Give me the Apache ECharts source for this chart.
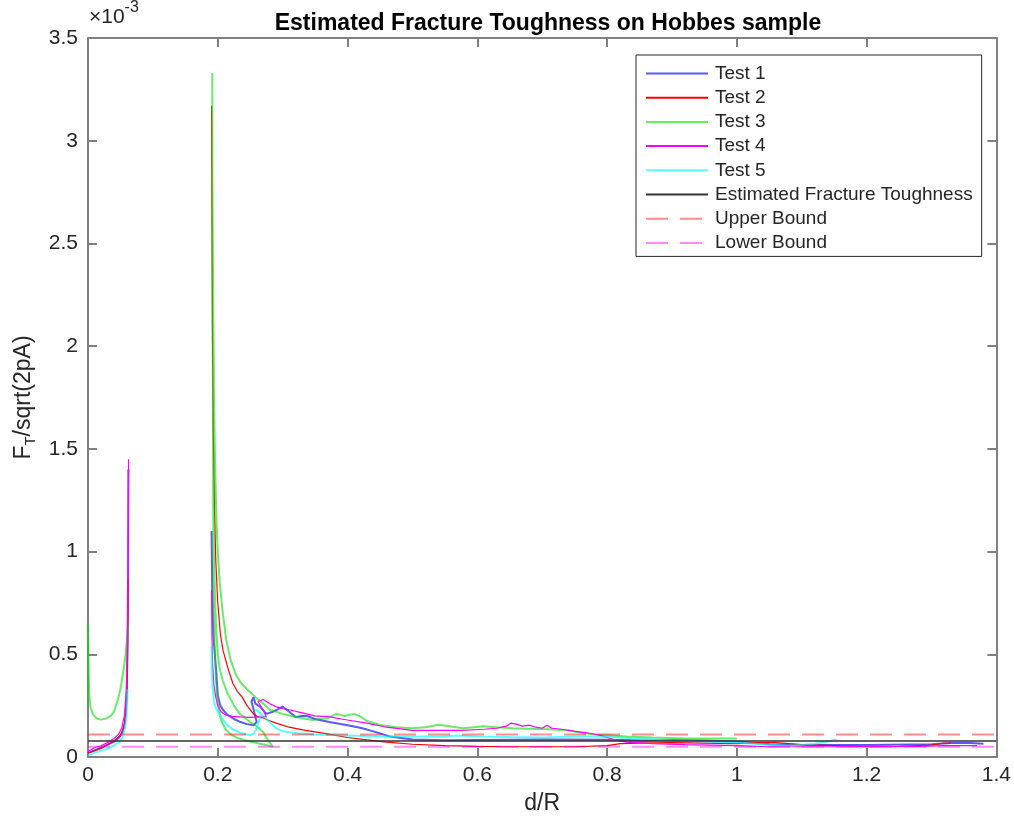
<!DOCTYPE html>
<html>
<head>
<meta charset="utf-8">
<script src="https://cdn.jsdelivr.net/npm/echarts@6/dist/echarts.min.js"></script>
<style>
  html, body { margin: 0; padding: 0; background: #fff; }
  #chart { width: 1014px; height: 823px; }
</style>
</head>
<body>
<div id="chart"></div>
<script>
// ---- Data (y values in units of 1e-3) ----
const xTicks = [0, 0.2, 0.4, 0.6, 0.8, 1, 1.2, 1.4];
const yTicks = [0, 0.5, 1, 1.5, 2, 2.5, 3, 3.5];
const seriesNames = ['Test 1', 'Test 2', 'Test 3', 'Test 4', 'Test 5',
  'Estimated Fracture Toughness', 'Upper Bound', 'Lower Bound'];

// Test 1
const test1Seg1 = [[0,0.02],[0.005,0.025],[0.01,0.032],[0.02,0.045],[0.03,0.06],[0.04,0.075],[0.048,0.095],[0.053,0.12],[0.057,0.17],[0.0595,0.28],[0.061,0.55],[0.0618,0.9],[0.0622,1.40]];
const test1Seg2 = [[0.1905,1.10],[0.1915,0.8],[0.193,0.6],[0.196,0.48],[0.198,0.4],[0.2,0.3],[0.204,0.25],[0.208,0.23],[0.215,0.205],[0.225,0.185],[0.235,0.17],[0.245,0.16],[0.255,0.155],[0.26,0.17],[0.256,0.22],[0.252,0.27],[0.255,0.29],[0.258,0.26],[0.265,0.245],[0.275,0.21],[0.285,0.22],[0.3,0.245],[0.31,0.22],[0.32,0.195],[0.33,0.2],[0.337,0.2],[0.35,0.185],[0.372,0.17],[0.4,0.155],[0.423,0.14],[0.445,0.12],[0.465,0.1],[0.5,0.085],[0.55,0.082],[0.6,0.083],[0.7,0.085],[0.8,0.084],[0.86,0.08],[0.9,0.083],[0.95,0.08],[1.0,0.075],[1.05,0.062],[1.1,0.058],[1.2,0.058],[1.3,0.062],[1.33,0.068],[1.36,0.068],[1.38,0.065]];

// Test 2
const test2Seg1 = [[0,0.02],[0.01,0.03],[0.02,0.042],[0.03,0.058],[0.04,0.078],[0.05,0.105],[0.055,0.14],[0.058,0.2],[0.06,0.32],[0.0612,0.55],[0.062,0.87]];
const test2Seg2 = [[0.1905,3.17],[0.191,2.6],[0.192,2.0],[0.193,1.6],[0.195,1.2],[0.197,0.95],[0.2,0.75],[0.204,0.6],[0.208,0.52],[0.215,0.44],[0.223,0.36],[0.23,0.32],[0.238,0.29],[0.245,0.25],[0.255,0.21],[0.262,0.195],[0.27,0.19],[0.277,0.18],[0.29,0.165],[0.31,0.145],[0.335,0.13],[0.36,0.117],[0.4,0.095],[0.43,0.083],[0.46,0.072],[0.5,0.062],[0.55,0.055],[0.6,0.052],[0.65,0.05],[0.7,0.05],[0.75,0.05],[0.8,0.055],[0.82,0.065],[0.85,0.068],[0.9,0.07],[0.95,0.068],[1.0,0.065],[1.03,0.07],[1.06,0.07],[1.1,0.06],[1.15,0.055],[1.2,0.05],[1.25,0.052],[1.3,0.058],[1.32,0.068],[1.33,0.068]];

// Test 3
const test3Seg1 = [[0,0.65],[0.001,0.4],[0.002,0.3],[0.004,0.24],[0.008,0.205],[0.014,0.186],[0.02,0.182],[0.028,0.187],[0.035,0.2],[0.04,0.22],[0.046,0.28],[0.05,0.33],[0.054,0.41],[0.058,0.5],[0.06,0.57],[0.0615,0.64]];
const test3Seg2 = [[0.1915,3.33],[0.192,2.5],[0.1925,1.8],[0.193,1.2],[0.194,0.8],[0.195,0.55],[0.197,0.38],[0.2,0.26],[0.205,0.18],[0.212,0.135],[0.22,0.11],[0.229,0.095],[0.24,0.083],[0.25,0.075],[0.26,0.068],[0.272,0.06],[0.285,0.05],
  [0.278,0.08],[0.27,0.12],[0.26,0.15],[0.25,0.17],[0.242,0.19],[0.234,0.21],[0.225,0.25],[0.215,0.31],[0.208,0.37],[0.203,0.43],[0.2,0.5],[0.198,0.6],[0.196,0.75],[0.194,1.0],[0.193,1.4],[0.192,2.2],[0.1918,2.8],
  [0.193,2.2],[0.194,1.8],[0.196,1.4],[0.198,1.15],[0.2,1.0],[0.203,0.85],[0.207,0.72],[0.213,0.57],[0.22,0.47],[0.228,0.4],[0.236,0.36],[0.245,0.33],[0.255,0.3],[0.262,0.28],[0.27,0.26],[0.28,0.23],[0.3,0.21],[0.32,0.195],[0.346,0.18],[0.37,0.19],[0.383,0.21],[0.395,0.2],[0.41,0.21],[0.418,0.2],[0.43,0.175],[0.45,0.156],[0.475,0.145],[0.5,0.14],[0.52,0.145],[0.54,0.157],[0.56,0.148],[0.577,0.14],[0.595,0.145],[0.608,0.15],[0.63,0.145],[0.654,0.14],[0.68,0.138],[0.71,0.135],[0.74,0.13],[0.765,0.115],[0.79,0.107],[0.83,0.1],[0.87,0.095],[0.92,0.09],[0.96,0.09],[1.0,0.09]];

// Test 4
const test4Seg1 = [[0,0.03],[0.005,0.035],[0.01,0.045],[0.02,0.055],[0.03,0.07],[0.04,0.09],[0.047,0.11],[0.052,0.14],[0.056,0.2],[0.059,0.32],[0.0605,0.5],[0.0615,0.8],[0.062,1.1],[0.0625,1.45]];
const test4Seg2 = [[0.1905,0.81],[0.191,0.6],[0.192,0.45],[0.194,0.35],[0.197,0.29],[0.2,0.25],[0.205,0.22],[0.212,0.205],[0.222,0.198],[0.234,0.195],[0.25,0.193],[0.262,0.195],[0.275,0.195],[0.268,0.24],[0.262,0.27],[0.27,0.28],[0.28,0.26],[0.29,0.245],[0.3,0.235],[0.31,0.23],[0.33,0.215],[0.35,0.2],[0.372,0.195],[0.4,0.18],[0.43,0.165],[0.46,0.145],[0.5,0.13],[0.54,0.13],[0.577,0.13],[0.61,0.135],[0.63,0.14],[0.645,0.15],[0.652,0.165],[0.66,0.16],[0.67,0.15],[0.68,0.155],[0.69,0.145],[0.7,0.14],[0.707,0.155],[0.715,0.14],[0.73,0.135],[0.75,0.125],[0.77,0.117],[0.79,0.105],[0.81,0.085],[0.83,0.072],[0.87,0.065],[0.92,0.06],[1.0,0.055],[1.05,0.05],[1.1,0.05],[1.2,0.05],[1.28,0.052],[1.32,0.055],[1.37,0.055]];

// Test 5
const test5Seg1 = [[0,0.01],[0.005,0.015],[0.01,0.02],[0.02,0.03],[0.03,0.04],[0.04,0.055],[0.048,0.075],[0.053,0.1],[0.057,0.14],[0.0595,0.2],[0.061,0.33]];
const test5Seg2 = [[0.1905,0.54],[0.191,0.42],[0.192,0.34],[0.194,0.27],[0.197,0.24],[0.2,0.22],[0.208,0.18],[0.215,0.155],[0.223,0.135],[0.235,0.117],[0.25,0.107],[0.256,0.115],[0.26,0.14],[0.264,0.18],[0.267,0.21],[0.262,0.225],[0.258,0.23],[0.262,0.22],[0.27,0.2],[0.28,0.17],[0.29,0.14],[0.3,0.125],[0.32,0.117],[0.35,0.11],[0.4,0.105],[0.45,0.1],[0.5,0.1],[0.55,0.1],[0.57,0.105],[0.6,0.1],[0.65,0.097],[0.7,0.095],[0.75,0.1],[0.78,0.1],[0.82,0.095],[0.86,0.088],[0.9,0.08],[0.95,0.075],[1.0,0.07],[1.05,0.06],[1.08,0.055],[1.12,0.065],[1.14,0.075],[1.152,0.085],[1.155,0.075]];

const estimatedValue = 0.078;
const upperBoundValue = 0.11;
const lowerBoundValue = 0.05;
const xRange = [0, 1.4];

// ---- Build ----
const GAP = ['-', '-'];
function joinSegs(...segs) {
  const out = [];
  segs.forEach((s, i) => { if (i > 0) out.push(GAP); s.forEach(p => out.push(p)); });
  return out;
}
function hline(v) { return xRange.map(x => [x, v]); }

const FONT = '"Liberation Sans", Arial, Helvetica, sans-serif';
const AX = '#808080';
const TXT = '#262626';

function lineSeries(name, data, color, width, opacity, type) {
  return {
    name, type: 'line', data, symbol: 'none', showSymbol: false,
    connectNulls: false, animation: false, silent: true,
    lineStyle: { color, width, opacity, type: type || 'solid' },
    itemStyle: { color, opacity },
    xAxisIndex: 0, yAxisIndex: 0
  };
}

const chart = echarts.init(document.getElementById('chart'), null, { renderer: 'canvas' });
chart.setOption({
  backgroundColor: '#fff',
  animation: false,
  title: {
    text: 'Estimated Fracture Toughness on Hobbes sample',
    left: 543, top: 7, textAlign: 'center',
    textStyle: { fontFamily: FONT, fontSize: 23, fontWeight: 'bold', color: '#000' }
  },
  grid: { left: 88, top: 38, width: 910, height: 719, containLabel: false },
  legend: {
    orient: 'vertical',
    left: 636, top: 55,
    itemWidth: 62, itemHeight: 16, itemGap: 5.2,
    padding: [9, 9, 4, 9],
    borderColor: '#262626', borderWidth: 1,
    backgroundColor: '#fff',
    itemStyle: { opacity: 0 },
    textStyle: { fontFamily: FONT, fontSize: 19, color: TXT, padding: [0, 0, 0, 2] },
    data: seriesNames
  },
  xAxis: [{
    type: 'value', min: 0, max: 1.4, interval: 0.2, position: 'bottom',
    name: 'd/R', nameLocation: 'middle', nameGap: 35,
    nameTextStyle: { fontFamily: FONT, fontSize: 23, color: TXT },
    axisLine: { show: true, onZero: false, lineStyle: { color: AX, width: 2 } },
    axisTick: { show: true, inside: true, length: 9, lineStyle: { color: AX, width: 2 } },
    axisLabel: { fontFamily: FONT, fontSize: 21, color: TXT, margin: 8, formatter: v => String(+v.toFixed(1)) },
    splitLine: { show: false }
  }, {
    type: 'value', min: 0, max: 1.4, interval: 0.2, position: 'top',
    axisLine: { show: true, onZero: false, lineStyle: { color: AX, width: 2 } },
    axisTick: { show: true, inside: true, length: 9, lineStyle: { color: AX, width: 2 } },
    axisLabel: { show: false }, splitLine: { show: false }
  }],
  yAxis: [{
    type: 'value', min: 0, max: 3.5, interval: 0.5, position: 'left',
    name: '{a|F}{b|T}{a|/sqrt(2pA)}', nameLocation: 'middle', nameGap: 50, nameRotate: 90,
    nameTextStyle: {
      fontFamily: FONT, color: TXT,
      rich: {
        a: { fontFamily: FONT, fontSize: 23, color: TXT, lineHeight: 26 },
        b: { fontFamily: FONT, fontSize: 15, color: TXT, lineHeight: 26, padding: [13, 0, 0, 0] }
      }
    },
    axisLine: { show: true, onZero: false, lineStyle: { color: AX, width: 2 } },
    axisTick: { show: true, inside: true, length: 9, lineStyle: { color: AX, width: 2 } },
    axisLabel: { fontFamily: FONT, fontSize: 21, color: TXT, margin: 10, formatter: v => String(+v.toFixed(1)) },
    splitLine: { show: false }
  }, {
    type: 'value', min: 0, max: 3.5, interval: 0.5, position: 'right',
    axisLine: { show: true, onZero: false, lineStyle: { color: AX, width: 2 } },
    axisTick: { show: true, inside: true, length: 9, lineStyle: { color: AX, width: 2 } },
    axisLabel: { show: false }, splitLine: { show: false }
  }],
  graphic: [{
    type: 'text', left: 89, top: 0,
    style: {
      text: '{a|×10}{b|-3}',
      rich: {
        a: { fontFamily: FONT, fontSize: 21, fill: TXT, padding: [10, 0, 0, 0] },
        b: { fontFamily: FONT, fontSize: 16, fill: TXT, padding: [0, 0, 8, 0] }
      }
    }
  }],
  series: [
    lineSeries('Test 1', joinSegs(test1Seg1, test1Seg2), '#0000ff', 2, 0.65),
    lineSeries('Test 2', joinSegs(test2Seg1, test2Seg2), '#ff0000', 1.2, 1),
    lineSeries('Test 3', joinSegs(test3Seg1, test3Seg2), '#00e000', 2, 0.6),
    lineSeries('Test 4', joinSegs(test4Seg1, test4Seg2), '#ff00ff', 1.2, 1),
    lineSeries('Test 5', joinSegs(test5Seg1, test5Seg2), '#00ffff', 2, 0.65),
    lineSeries('Estimated Fracture Toughness', hline(estimatedValue), '#333333', 1.5, 1),
    lineSeries('Upper Bound', hline(upperBoundValue), '#ff0000', 2, 0.45, [22, 12]),
    lineSeries('Lower Bound', hline(lowerBoundValue), '#ff00ff', 2, 0.45, [22, 12])
  ]
});
</script>
</body>
</html>
